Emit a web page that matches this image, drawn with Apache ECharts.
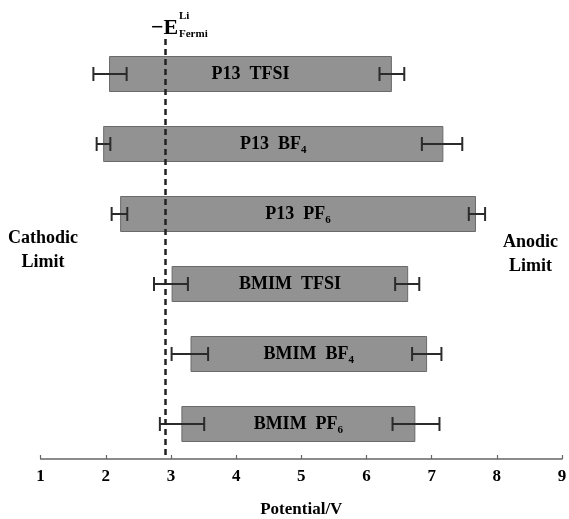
<!DOCTYPE html>
<html>
<head>
<meta charset="utf-8">
<script src="https://cdn.jsdelivr.net/npm/echarts@6/dist/echarts.min.js"></script>
<style>html,body{margin:0;padding:0;background:#fff}#c{width:569px;height:519px}</style>
</head>
<body>
<div id="c"></div>
<script>
const categories = ['P13 TFSI', 'P13 BF4', 'P13 PF6', 'BMIM TFSI', 'BMIM BF4', 'BMIM PF6'];
const barLabels = ['P13  TFSI', 'P13  BF{s|4}', 'P13  PF{s|6}', 'BMIM  TFSI', 'BMIM  BF{s|4}', 'BMIM  PF{s|6}'];
const cathodic = [2.05, 1.96, 2.22, 3.01, 3.30, 3.16];
const anodic = [6.39, 7.18, 7.68, 6.64, 6.93, 6.75];
const cathErrLow = [1.81, 1.86, 2.09, 2.74, 3.01, 2.83];
const cathErrHigh = [2.32, 2.07, 2.33, 3.26, 3.57, 3.51];
const anodErrLow = [6.20, 6.85, 7.57, 6.44, 6.70, 6.40];
const anodErrHigh = [6.58, 7.47, 7.82, 6.81, 7.15, 7.12];
const fermiLi = 2.91;
const xTicks = [1, 9, 1]; // min, max, interval

const serif = '"Liberation Serif", "DejaVu Serif", serif';
const chart = echarts.init(document.getElementById('c'));

const errData = [];
categories.forEach((c, i) => {
  errData.push([i, cathErrLow[i], cathErrHigh[i]]);
  errData.push([i, anodErrLow[i], anodErrHigh[i]]);
});

function renderErr(params, api) {
  const i = api.value(0);
  const p1 = api.coord([api.value(1), i]);
  const p2 = api.coord([api.value(2), i]);
  const h = 7;
  const st = { stroke: '#2b2b2b', lineWidth: 2 };
  return {
    type: 'group',
    children: [
      { type: 'line', shape: { x1: p1[0], y1: p1[1], x2: p2[0], y2: p2[1] }, style: st },
      { type: 'line', shape: { x1: p1[0], y1: p1[1] - h, x2: p1[0], y2: p1[1] + h }, style: st },
      { type: 'line', shape: { x1: p2[0], y1: p2[1] - h, x2: p2[0], y2: p2[1] + h }, style: st }
    ]
  };
}

chart.setOption({
  animation: false,
  backgroundColor: '#fff',
  grid: { left: 40.6, right: 7, top: 39, bottom: 60, containLabel: false, outerBoundsMode: 'none' },
  xAxis: {
    type: 'value', min: xTicks[0], max: xTicks[1], interval: xTicks[2],
    axisLine: { show: true, lineStyle: { color: '#666', width: 1.5 } },
    axisTick: { show: true, inside: true, length: 4, lineStyle: { color: '#666', width: 1.2 } },
    splitLine: { show: false },
    axisLabel: { color: '#000', fontFamily: serif, fontWeight: 'bold', fontSize: 17, margin: 9 },
    name: 'Potential/V', nameLocation: 'middle', nameGap: 42,
    nameTextStyle: { color: '#000', fontFamily: serif, fontWeight: 'bold', fontSize: 17 }
  },
  yAxis: {
    type: 'category', data: categories, inverse: true,
    axisLine: { show: false }, axisTick: { show: false }, axisLabel: { show: false }, splitLine: { show: false }
  },
  series: [
    {
      type: 'bar', stack: 'w', data: cathodic, barWidth: 36,
      itemStyle: { color: 'rgba(0,0,0,0)' }, silent: true
    },
    {
      type: 'bar', stack: 'w', barWidth: 36,
      data: anodic.map((a, i) => +(a - cathodic[i]).toFixed(3)),
      itemStyle: { color: '#929292', borderColor: '#6a6a6a', borderWidth: 1 },
      label: {
        show: true, position: 'inside',
        formatter: p => barLabels[p.dataIndex],
        color: '#000', fontFamily: serif, fontWeight: 'bold', fontSize: 18,
        rich: {
          s: { fontFamily: serif, fontWeight: 'bold', fontSize: 11, color: '#000', padding: [12, 0, 0, 0] }
        }
      }
    },
    {
      type: 'custom', renderItem: renderErr, data: errData, z: 5,
      encode: { x: [1, 2], y: 0 },
      markLine: {
        silent: true, symbol: 'none', z: 6,
        lineStyle: { color: '#222', type: [6, 4], width: 2.5 },
        label: { show: false },
        data: [{ xAxis: fermiLi }]
      }
    }
  ],
  graphic: [
    { type: 'text', left: 8, top: 226, style: { text: 'Cathodic\nLimit', textAlign: 'center', fontFamily: serif, fontWeight: 'bold', fontSize: 18, lineHeight: 24, fill: '#000' } },
    { type: 'text', left: 503, top: 230, style: { text: 'Anodic\nLimit', textAlign: 'center', fontFamily: serif, fontWeight: 'bold', fontSize: 18, lineHeight: 24, fill: '#000' } },
    { type: 'text', left: 151, top: 17, style: { text: '\u2212E', fontFamily: serif, fontWeight: 'bold', fontSize: 22, fill: '#000' } },
    { type: 'text', left: 179, top: 11, style: { text: 'Li', fontFamily: serif, fontWeight: 'bold', fontSize: 11, fill: '#000' } },
    { type: 'text', left: 179, top: 29, style: { text: 'Fermi', fontFamily: serif, fontWeight: 'bold', fontSize: 11, fill: '#000' } }
  ]
});
</script>
</body>
</html>
